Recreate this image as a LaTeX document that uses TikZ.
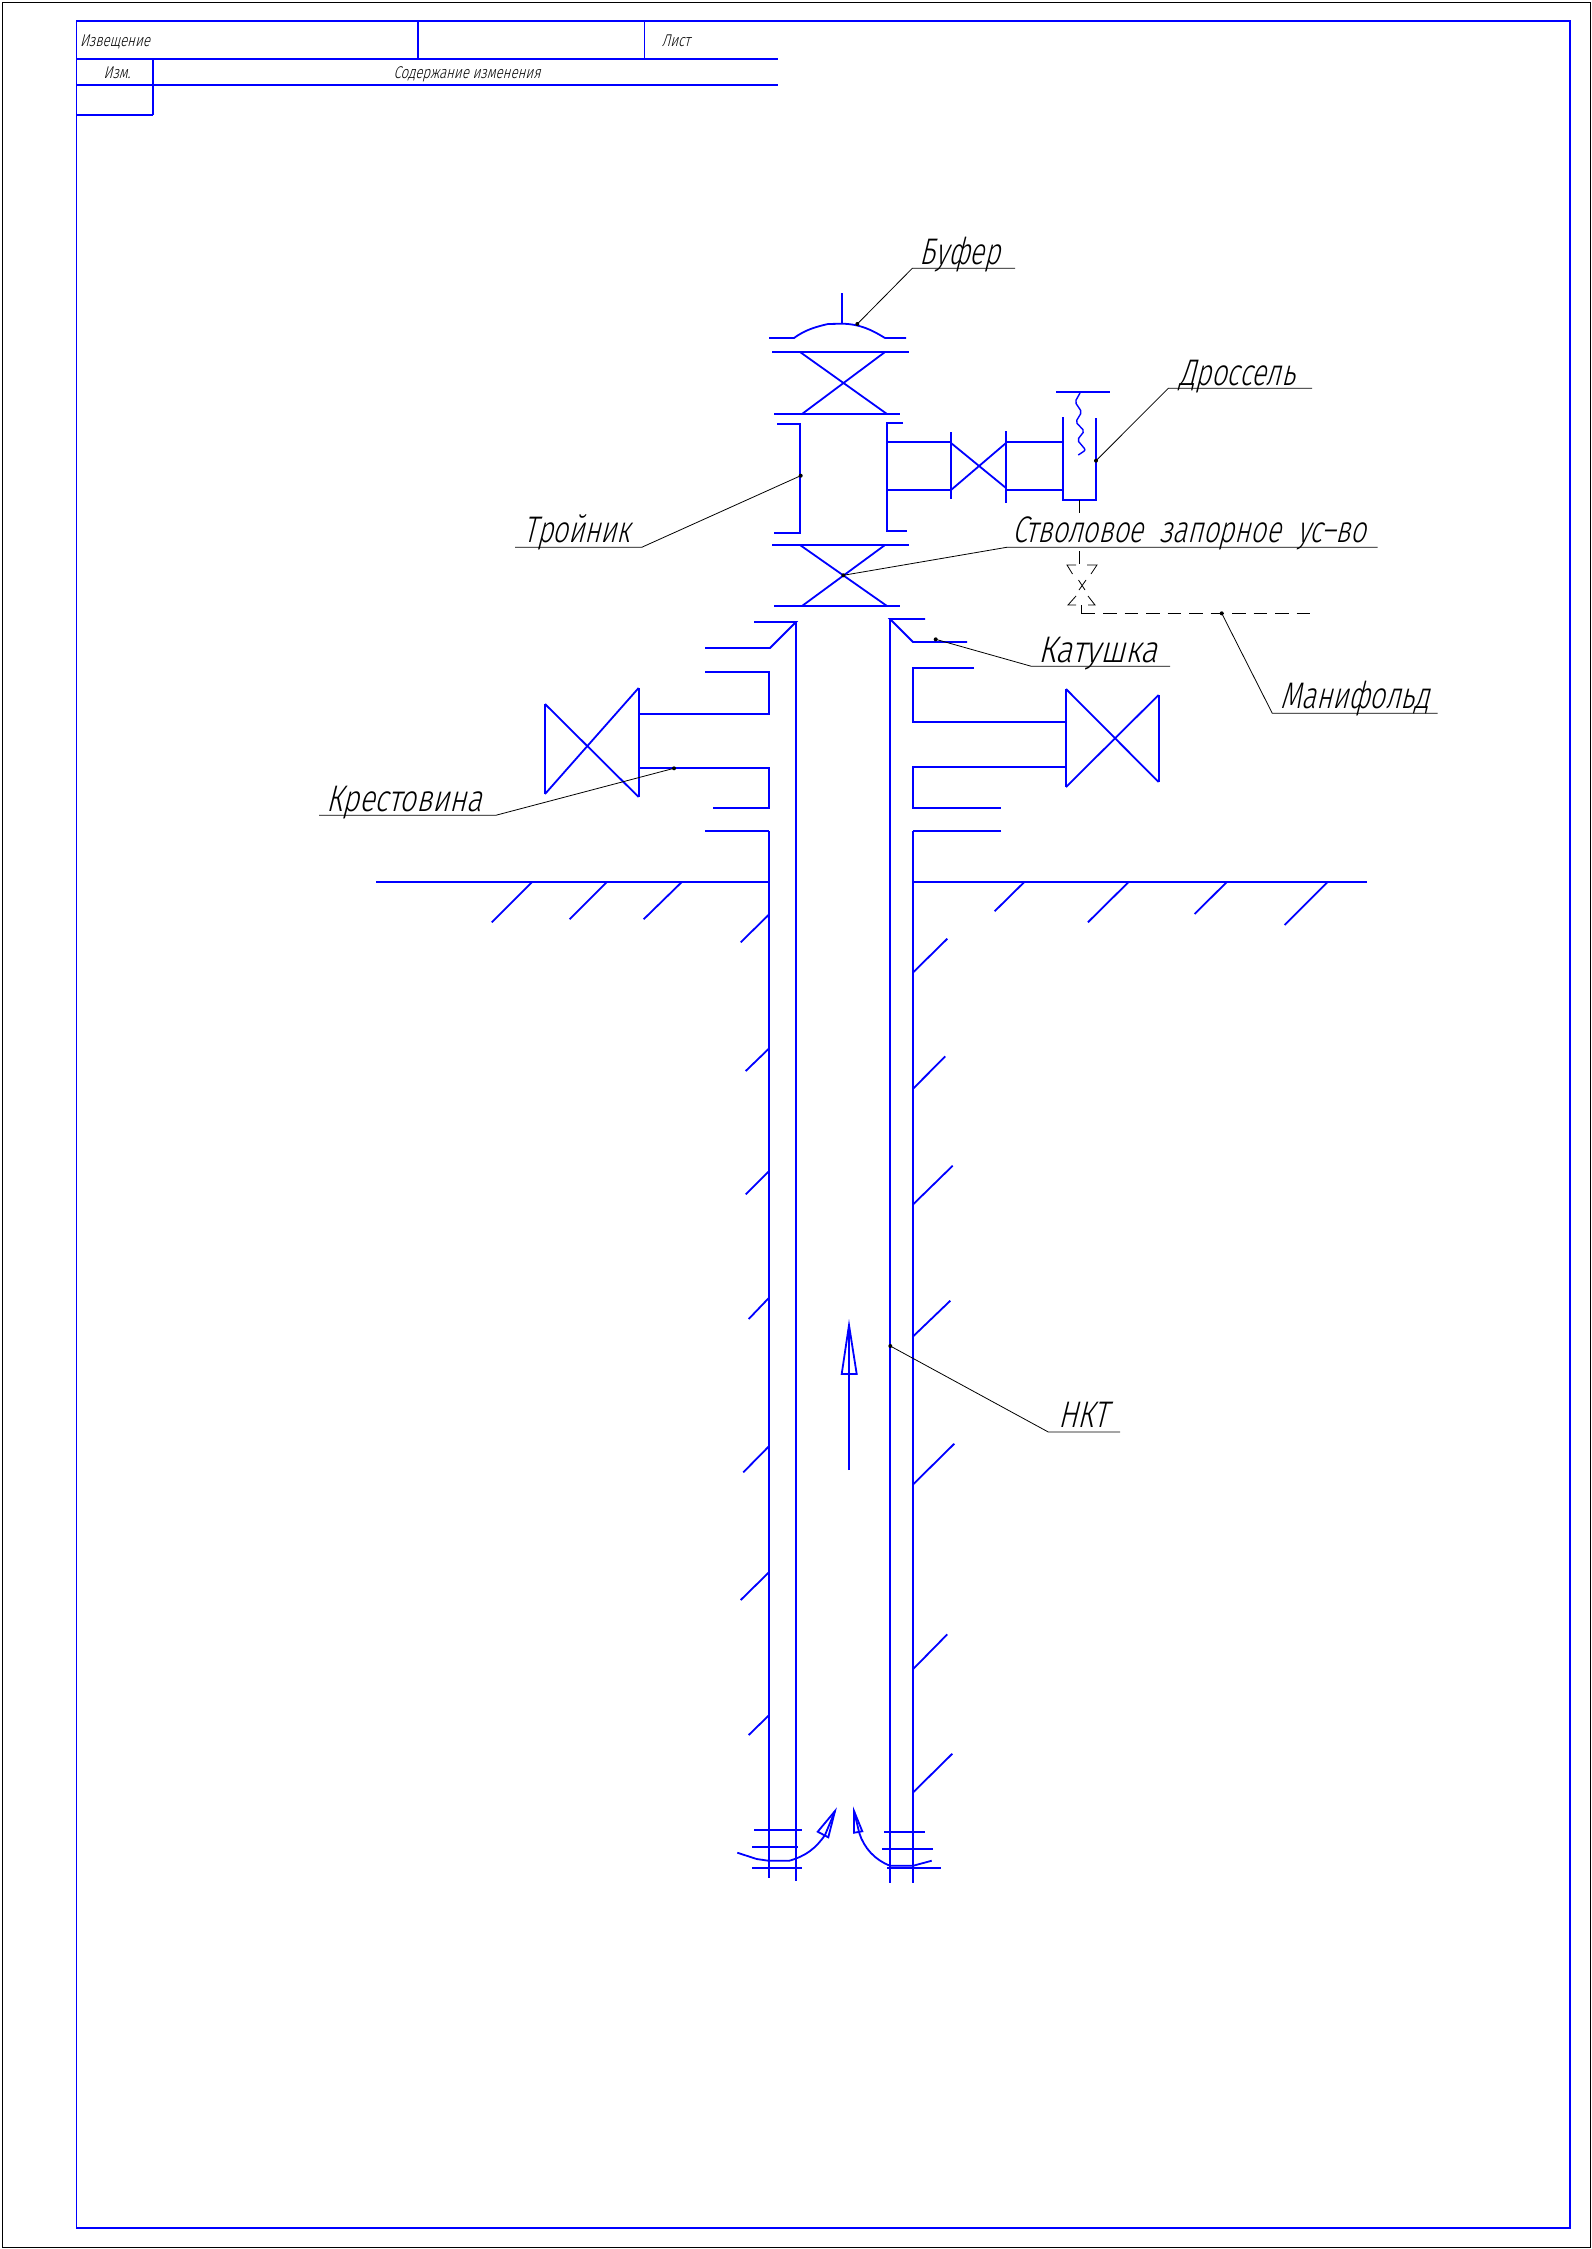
\documentclass[tikz,border=0pt]{standalone}
\usepackage{fontspec}
\newfontfamily\gostfont[FakeSlant=0.25,FakeStretch=0.735]{Fira Sans Light}
\newfontfamily\gostwidefont[FakeSlant=0.25,FakeStretch=0.78]{Fira Sans Light}
\newfontfamily\gostspoolfont[FakeSlant=0.25,FakeStretch=0.85]{Fira Sans Light}
\begin{document}
\begin{tikzpicture}[x=1pt,y=-1pt,
    pipe/.style={color=blue, line width=1.8pt},
    thinline/.style={color=black, line width=0.8pt},
    callout/.style={anchor=base, inner sep=0pt, font=\gostfont\fontsize{37}{37}\selectfont},
    calloutwide/.style={anchor=base, inner sep=0pt, font=\gostwidefont\fontsize{37}{37}\selectfont},
    calloutspool/.style={anchor=base, inner sep=0pt, font=\gostspoolfont\fontsize{37}{37}\selectfont},
    stamp/.style={anchor=base, inner sep=0pt, font=\gostwidefont\fontsize{17}{17}\selectfont}]
            \useasboundingbox (0,0) rectangle (1592,2249);

            % Sheet and frame
            \draw[line width=1pt] (2,2) rectangle (1590,2247);
            \draw[pipe] (76.5,21) rectangle (1570,2228);

            % Stamp
            \draw[pipe] (76.5,59) -- (778,59);
            \draw[pipe] (76.5,85) -- (778,85);
            \draw[pipe] (76.5,115) -- (153,115);
            \draw[pipe] (153,59) -- (153,115);
            \draw[pipe] (418,21) -- (418,59);
            \draw[pipe] (644.5,21) -- (644.5,59);
            \node[stamp] (izvesh) at (115,46) {Извещение};
            \node[stamp] (list) at (676,46) {Лист};
            \node[stamp] (izm) at (117,78) {Изм.};
            \node[stamp] (soderzh) at (467,78) {Содержание изменения};

            % Buffer
            \draw[pipe] (842,293) -- (842,324);
            \draw[pipe] (769,338) -- (794,338) .. controls (805,330) and (815,327) .. (828,324) -- (842,323.7) .. controls (860,324) and (872,330) .. (885,338) -- (906,338);

            % Top valve
            \draw[pipe] (772,352) -- (909,352);
            \draw[pipe] (774,414) -- (900,414);
            \draw[pipe] (800,352) -- (887,414);
            \draw[pipe] (885,352) -- (802,414);

            % Tee
            \draw[pipe] (777,424) -- (800,424) -- (800,533) -- (774,533);
            \draw[pipe] (903,423) -- (887,423) -- (887,531) -- (907,531);
            \draw[pipe] (887,442) -- (951,442);
            \draw[pipe] (887,490) -- (951,490);

            % Side valve
            \draw[pipe] (951,432) -- (951,499);
            \draw[pipe] (1006,431) -- (1006,503);
            \draw[pipe] (951,443) -- (1006,488);
            \draw[pipe] (951,490) -- (1006,443);
            \draw[pipe] (1006,442) -- (1063,442);
            \draw[pipe] (1006,490) -- (1063,490);

            % Choke
            \draw[pipe] (1063,417) -- (1063,500) -- (1096,500) -- (1096,418);
            \draw[pipe] (1056,392) -- (1110,392);
            \draw[color=blue, line width=1.4pt, rounded corners=2pt] (1080,393) -- (1075,402) -- (1081.7,412) -- (1075.7,422) -- (1084.3,431) -- (1077.3,440) -- (1085.7,450) -- (1078.3,455);

            % Lower valve
            \draw[pipe] (772,545) -- (909,545);
            \draw[pipe] (774,606) -- (900,606);
            \draw[pipe] (800,545) -- (887,606);
            \draw[pipe] (885,545) -- (802,606);

            % Manifold line
            \draw[thinline] (1079.3,500) -- (1079.3,513);
            \draw[thinline] (1079.3,551) -- (1079.3,564);
            \draw[thinline] (1076,565) -- (1067,565) -- (1072.5,574);
            \draw[thinline] (1087,565) -- (1097,565) -- (1091,574);
            \draw[thinline] (1078.5,580) -- (1085,590);
            \draw[thinline] (1086,580) -- (1079,590);
            \draw[thinline] (1076,596) -- (1068,605) -- (1076,605);
            \draw[thinline] (1088,596) -- (1095,605) -- (1088,605);
            \draw[thinline] (1081.7,605) -- (1081.7,613.3) -- (1095,613.3);
            \draw[thinline, dash pattern=on 13.5pt off 8pt] (1103,613.3) -- (1311,613.3);

            % Spool
            \draw[pipe] (754,622) -- (796,622) -- (770,648) -- (705,648);
            \draw[pipe] (925,619) -- (890,619) -- (913,642) -- (967,642);

            % Left cross
            \draw[pipe] (705,672) -- (768.6,672) -- (768.6,714) -- (638.6,714);
            \draw[pipe] (638.6,768) -- (768.6,768) -- (768.6,808) -- (713,808);
            \draw[pipe] (705,831) -- (768.6,831);
            \draw[pipe] (638.6,688) -- (638.6,797);
            \draw[pipe] (545,704) -- (545,794);
            \draw[pipe] (638.6,688) -- (545,794);
            \draw[pipe] (545,704) -- (638.6,797);

            % Right cross
            \draw[pipe] (974,668) -- (913,668) -- (913,722) -- (1066,722);
            \draw[pipe] (1066,767) -- (913,767) -- (913,808) -- (1001,808);
            \draw[pipe] (1001,831) -- (913,831);
            \draw[pipe] (1066,689) -- (1066,787);
            \draw[pipe] (1158.6,695) -- (1158.6,782);
            \draw[pipe] (1066,689) -- (1158.6,782);
            \draw[pipe] (1158.6,695) -- (1066,787);

            % Ground
            \draw[pipe] (376,882) -- (769,882);
            \draw[pipe] (913,882) -- (1367,882);
            \draw[pipe] (532,882) -- (491.8,922.3);
            \draw[pipe] (606.8,882) -- (569.6,919.3);
            \draw[pipe] (681.8,882) -- (643.6,919.3);
            \draw[pipe] (1024.3,882) -- (994.6,911.3);
            \draw[pipe] (1128.6,882) -- (1087.9,922.3);
            \draw[pipe] (1226.8,882) -- (1194.6,914);
            \draw[pipe] (1327.5,882) -- (1284.6,925);

            % Strings
            \draw[pipe] (769,831) -- (769,1878);
            \draw[pipe] (796,622) -- (796,1881);
            \draw[pipe] (890,619) -- (890,1883);
            \draw[pipe] (913,831) -- (913,1883);

            % Casing hatches, left
            \draw[pipe] (768.5,915) -- (740.7,942.3);
            \draw[pipe] (768.5,1049) -- (745.7,1071);
            \draw[pipe] (768.5,1171.7) -- (745.7,1194.3);
            \draw[pipe] (768.5,1298.3) -- (748.7,1319);
            \draw[pipe] (768.5,1446.7) -- (743.3,1472.3);
            \draw[pipe] (768.5,1572.7) -- (740.7,1600);
            \draw[pipe] (768.5,1715.7) -- (748.7,1735);

            % Casing hatches, right
            \draw[pipe] (913.5,972) -- (947.3,938.7);
            \draw[pipe] (913.5,1088.3) -- (945.3,1056.3);
            \draw[pipe] (913.5,1204) -- (952.7,1165.7);
            \draw[pipe] (913.5,1336) -- (950.3,1300.7);
            \draw[pipe] (913.5,1484) -- (954.3,1443.7);
            \draw[pipe] (913.5,1668.7) -- (947.3,1634.3);
            \draw[pipe] (913.5,1792) -- (952.3,1753.7);

            % Collars
            \draw[pipe] (754.3,1830) -- (801.7,1830);
            \draw[pipe] (752.3,1847) -- (798,1847);
            \draw[pipe] (752.3,1868) -- (801.7,1868);
            \draw[pipe] (884.3,1832) -- (925,1832);
            \draw[pipe] (882.3,1849) -- (933,1849);
            \draw[pipe] (887.3,1868) -- (941,1868);

            % Flow arrows
            \draw[pipe] (849,1470) -- (849,1325);
            \draw[pipe] (849,1325) -- (841.7,1374) -- (856.7,1374) -- cycle;
            \draw[pipe] (737.3,1852.7) -- (756.7,1859) -- (768.3,1860.7) -- (789.3,1860.7) .. controls (806,1856) and (816,1848) .. (825,1835) -- (835,1811);
            \draw[pipe] (835,1811) -- (817.7,1831.7) -- (828.3,1837.3) -- cycle;
            \draw[pipe] (931.7,1860.7) -- (913.3,1865.7) -- (890,1865.7) .. controls (875,1860) and (864,1848) .. (859.3,1833) -- (854,1811);
            \draw[pipe] (854,1811) -- (854,1832.7) -- (862.3,1831.3) -- cycle;

            % Leaders
            \draw[thinline] (857.3,324) -- (912.3,268.3) -- (1015,268.3);
            \draw[thinline] (1096,460.7) -- (1168.3,388.3) -- (1312,388.3);
            \draw[thinline] (800.7,475.7) -- (641.7,547.3) -- (515,547.3);
            \draw[thinline] (843.3,575.3) -- (1006.7,547.3) -- (1377.7,547.3);
            \draw[thinline] (935.7,639.3) -- (1031.4,666.3) -- (1170,666.3);
            \draw[thinline] (1221.7,613.3) -- (1272.3,713.3) -- (1437.7,713.3);
            \draw[thinline] (674,768.3) -- (495.7,815.3) -- (319,815.3);
            \draw[thinline] (890.3,1346) -- (1048.3,1432) -- (1120,1432);

            \fill (857.3,324) circle (2);
            \fill (1096,460.7) circle (2);
            \fill (800.7,475.7) circle (2);
            \fill (843.3,575.3) circle (2);
            \fill (935.7,639.3) circle (2);
            \fill (1221.7,613.3) circle (2);
            \fill (674,768.3) circle (2);
            \fill (890.3,1346) circle (2);

            \node[callout] (bufer) at (960,264) {Буфер};
            \node[callout] (drossel) at (1237,385) {Дроссель};
            \node[callout] (troinik) at (577,542.5) {Тройник};
            \node[callout] (stvol) at (1189,542.5) {Стволовое\hspace{9pt} запорное\hspace{9pt} ус–во};
            \node[calloutspool] (katushka) at (1098,662.5) {Катушка};
            \node[callout] (manifold) at (1355,708.5) {Манифольд};
            \node[calloutwide] (krest) at (404,811.5) {Крестовина};
            \node[calloutwide] (nkt) at (1083,1427.5) {НКТ};

        \end{tikzpicture}
\end{document}
